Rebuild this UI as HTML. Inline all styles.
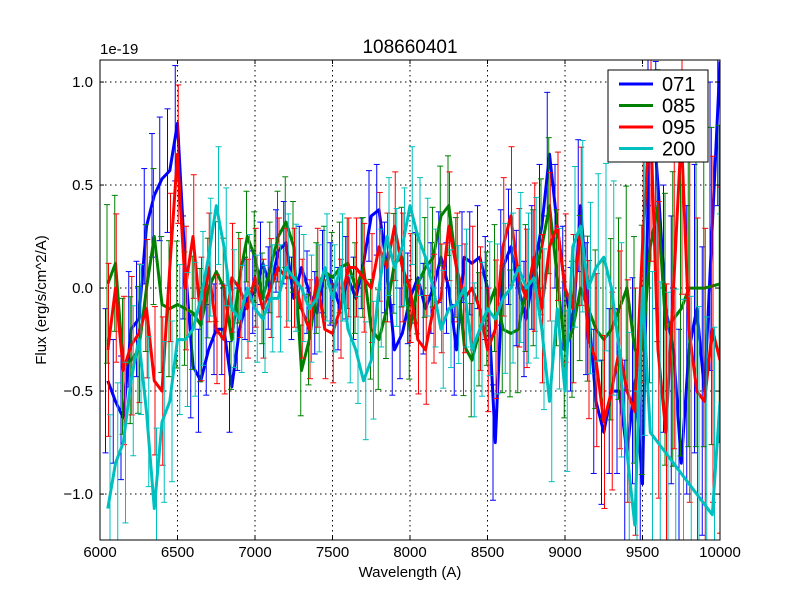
<!DOCTYPE html>
<html><head><meta charset="utf-8"><style>
html,body{margin:0;padding:0;background:#fff;width:800px;height:600px;overflow:hidden}
svg{display:block}
svg text{font-family:"Liberation Sans","DejaVu Sans",sans-serif}
</style></head><body>
<svg id="chart" width="800" height="600" xmlns="http://www.w3.org/2000/svg">
<rect width="800" height="600" fill="#fff"/>
<defs><clipPath id="clip"><rect x="100" y="60" width="620" height="480"/></clipPath></defs>
<g id="grid"></g>
<g id="series" clip-path="url(#clip)"></g>
<rect x="100" y="60" width="620" height="480" fill="none" stroke="#000" stroke-width="1"/>
<g id="axes"></g>
<text x="410" y="53" font-size="19" text-anchor="middle">108660401</text>
<text x="100" y="54" font-size="15">1e-19</text>
<text x="410" y="577" font-size="15" text-anchor="middle">Wavelength (A)</text>
<text x="46" y="300" font-size="15" text-anchor="middle" transform="rotate(-90 46 300)">Flux (erg/s/cm^2/A)</text>
<g id="legend"></g>
</svg>
<script>
const wavelengths=[6050,6100,6150,6200,6250,6300,6350,6400,6450,6500,6550,6600,6650,6700,6750,6800,6850,6900,6950,7000,7050,7100,7150,7200,7250,7300,7350,7400,7450,7500,7550,7600,7650,7700,7750,7800,7850,7900,7950,8000,8050,8100,8150,8200,8250,8300,8350,8400,8450,8500,8550,8600,8650,8700,8750,8800,8850,8900,8950,9000,9050,9100,9150,9200,9250,9300,9350,9400,9450,9500,9550,9600,9650,9700,9750,9800,9850,9900,9950,10000];
const seriesNames=["071","085","095","200"];
const seriesColors=["#0000ff","#008000","#ff0000","#00bfbf"];
const flux071=[-0.45,-0.55,-0.63,-0.2,-0.15,0.3,0.45,0.53,0.57,0.8,0.1,-0.38,-0.45,-0.3,-0.2,-0.2,-0.48,-0.2,-0.05,-0.02,0.12,0.0,0.18,0.22,-0.05,0.1,-0.02,-0.12,0.08,0.02,-0.1,0.05,-0.05,0.12,0.35,0.38,0.1,-0.3,-0.22,-0.05,0.05,-0.1,0.0,0.15,0.0,-0.3,0.15,0.12,0.15,0.0,-0.75,0.1,0.2,0.0,-0.15,0.1,0.3,0.65,0.3,0.0,-0.2,0.4,-0.1,-0.55,-0.7,-0.5,-0.5,-0.8,-0.45,-0.95,1.0,0.5,-0.1,-0.3,-0.85,-0.3,-0.1,-0.5,0.3,1.1];
const flux085=[0.02,0.12,-0.38,-0.35,-0.3,0.0,0.25,-0.08,-0.1,-0.08,-0.1,-0.12,-0.18,0.0,0.08,0.0,-0.25,0.05,0.25,0.15,-0.05,0.1,0.25,0.32,0.2,-0.4,-0.25,0.0,0.08,0.05,0.1,0.12,0.0,0.1,-0.2,-0.25,-0.1,0.12,0.15,-0.2,0.02,0.1,0.15,0.35,0.4,0.1,-0.28,-0.35,-0.2,-0.1,0.0,-0.2,-0.22,-0.2,0.0,0.05,0.2,0.4,0.05,-0.3,-0.2,0.0,-0.1,-0.2,-0.25,-0.2,-0.1,0.0,-0.3,-0.3,0.2,0.4,-0.2,-0.15,-0.1,0.0,0.0,0.0,0.01,0.02];
const flux095=[-0.3,0.0,-0.4,-0.28,-0.22,-0.1,-0.45,-0.5,0.1,0.65,0.0,0.25,-0.15,0.1,-0.2,-0.25,0.05,0.0,-0.1,0.05,-0.1,0.0,0.1,0.05,0.05,-0.1,-0.2,0.05,-0.2,-0.22,-0.1,0.1,0.1,0.05,0.0,0.2,0.1,0.3,0.1,0.0,-0.25,-0.3,-0.1,-0.05,0.3,0.1,-0.05,0.0,-0.1,-0.3,-0.2,0.2,0.35,0.05,-0.05,0.15,-0.1,0.2,0.3,0.0,-0.1,0.3,-0.25,-0.35,-0.65,-0.5,-0.3,-0.5,-0.6,0.2,0.85,-0.3,-0.7,0.0,0.75,-0.2,-0.5,-0.55,-0.2,-0.35];
const flux200=[-1.07,-0.85,-0.75,-0.45,-0.25,-0.6,-1.07,-0.65,-0.55,-0.25,-0.25,-0.2,-0.05,0.15,0.4,0.2,-0.1,-0.15,0.0,-0.1,-0.15,-0.05,-0.05,0.1,0.05,0.0,-0.1,-0.05,0.1,-0.05,0.1,-0.2,-0.3,-0.45,-0.35,0.0,0.25,0.1,0.2,0.4,0.25,0.15,0.0,-0.2,-0.1,-0.08,0.0,-0.3,-0.2,-0.1,-0.15,-0.05,0.0,0.1,0.0,0.05,-0.2,-0.55,-0.1,-0.5,0.2,0.3,0.0,0.1,0.15,0.0,-0.3,-0.8,-1.15,0.0,-0.7,-0.75,-0.8,-0.85,-0.9,-0.95,-1.0,-1.05,-1.1,-0.55];
const fluxErr=[0.35,0.3,0.3,0.28,0.28,0.28,0.3,0.3,0.3,0.28,0.25,0.25,0.25,0.22,0.22,0.22,0.22,0.2,0.2,0.2,0.2,0.2,0.2,0.2,0.2,0.2,0.2,0.2,0.2,0.2,0.2,0.2,0.2,0.22,0.22,0.22,0.22,0.22,0.22,0.22,0.22,0.22,0.22,0.22,0.22,0.22,0.22,0.25,0.25,0.25,0.28,0.28,0.28,0.28,0.28,0.3,0.3,0.3,0.3,0.3,0.3,0.32,0.32,0.35,0.35,0.4,0.4,0.45,0.5,0.55,0.6,0.6,0.6,0.65,0.65,0.7,0.7,0.7,0.7,0.7];
const xTicks=[6000,6500,7000,7500,8000,8500,9000,9500,10000];
const yTicks=[-1.0,-0.5,0.0,0.5,1.0];
const yTickLabels=["\u22121.0","\u22120.5","0.0","0.5","1.0"];

const X0=100,X1=720,Y0=60,Y1=540,xmin=6000,xmax=10000,ymin=-1.223,ymax=1.107;
const xs=v=>X0+(v-xmin)/(xmax-xmin)*(X1-X0);
const ys=v=>Y1-(v-ymin)/(ymax-ymin)*(Y1-Y0);
const clampY=y=>Math.max(Y0,Math.min(Y1,y));
const NS="http://www.w3.org/2000/svg";
function mk(tag,attrs,parent){const e=document.createElementNS(NS,tag);for(const k in attrs)e.setAttribute(k,attrs[k]);parent.appendChild(e);return e;}
const grid=document.getElementById('grid'),axes=document.getElementById('axes'),ser=document.getElementById('series'),leg=document.getElementById('legend');
xTicks.forEach((t,i)=>{
  const x=xs(t);
  const g=mk('line',{x1:x,x2:x,y1:Y0,y2:Y1,stroke:'#000','stroke-dasharray':'1.5,3.5','stroke-width':1},grid);
  
  
  mk('line',{x1:x,x2:x,y1:Y1,y2:Y1-4,stroke:'#000'},axes);
  mk('line',{x1:x,x2:x,y1:Y0,y2:Y0+4,stroke:'#000'},axes);
  const tx=mk('text',{x:x,y:557,'font-size':15,'text-anchor':'middle'},axes);
  tx.textContent=t;
  
  
});
yTicks.forEach((t,i)=>{
  const y=ys(t);
  const g=mk('line',{x1:X0,x2:X1,y1:y,y2:y,stroke:'#000','stroke-dasharray':'1.5,3.5','stroke-width':1},grid);
  
  
  mk('line',{x1:X0,x2:X0+4,y1:y,y2:y,stroke:'#000'},axes);
  mk('line',{x1:X1,x2:X1-4,y1:y,y2:y,stroke:'#000'},axes);
  const tx=mk('text',{x:93,y:y+5,'font-size':15,'text-anchor':'end'},axes);
  tx.textContent=yTickLabels[i];
  
  
});
const allFlux=[flux071,flux085,flux095,flux200];
allFlux.forEach((data,si)=>{
  const c=seriesColors[si];
  const eg=mk('g',{},ser);
  
  
  data.forEach((v,i)=>{
    const x=Math.min(X1,xs(wavelengths[i])+(si-1.5)*1.5),e=fluxErr[i]*(1+0.1*si);
    const ytr=ys(v+e),ybr=ys(v-e);
    const yt=clampY(ytr),yb=clampY(ybr);
    mk('line',{x1:x,x2:x,y1:yt,y2:yb,stroke:c,'stroke-width':1},eg);
    if(ytr>=Y0) mk('line',{x1:x-3,x2:Math.min(X1,x+3),y1:yt,y2:yt,stroke:c,'stroke-width':1},eg);
    if(ybr<=Y1) mk('line',{x1:x-3,x2:Math.min(X1,x+3),y1:yb,y2:yb,stroke:c,'stroke-width':1},eg);
  });
  const pts=data.map((v,i)=>xs(wavelengths[i]).toFixed(1)+','+clampY(ys(v)).toFixed(1)).join(' ');
  const pl=mk('polyline',{points:pts,fill:'none',stroke:c,'stroke-width':3,'stroke-linejoin':'round'},ser);
  
  
});
mk('rect',{x:608,y:70,width:100,height:92,fill:'#fff',stroke:'#000'},leg);
seriesNames.forEach((n,i)=>{
  const y=84+i*21.5;
  const ln=mk('line',{x1:619,x2:653,y1:y,y2:y,stroke:seriesColors[i],'stroke-width':3},leg);
  
  
  const t=mk('text',{x:662,y:y+7,'font-size':20},leg);
  t.textContent=n;
  
  
});
</script>
</body></html>
